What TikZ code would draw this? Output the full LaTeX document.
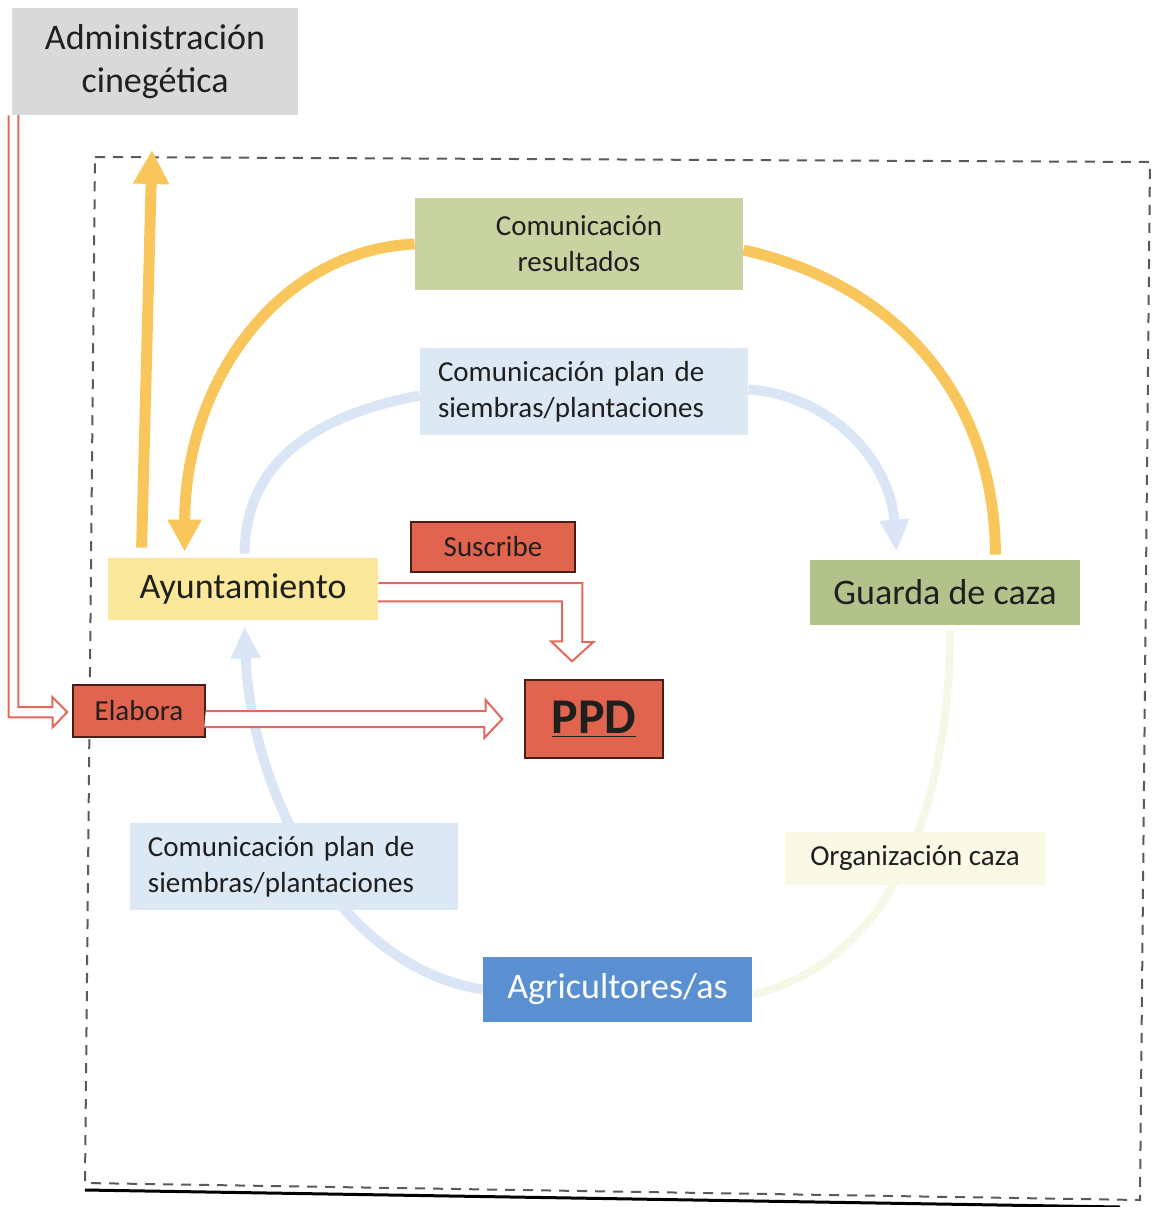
\documentclass[tikz,border=0pt]{standalone}
\usepackage{fontspec}
\setmainfont{Carlito}
\usetikzlibrary{positioning,calc,arrows.meta,backgrounds}

\definecolor{admgray}{HTML}{D9D9D9}
\definecolor{resgreen}{HTML}{C9D3A2}
\definecolor{planblue}{HTML}{DDE8F5}
\definecolor{aytoyellow}{HTML}{FCE89A}
\definecolor{ppdred}{HTML}{E0644E}
\definecolor{ppdedge}{HTML}{4A1E16}
\definecolor{guardgreen}{HTML}{B3C28A}
\definecolor{orgcream}{HTML}{F9F9E6}
\definecolor{agriblue}{HTML}{5A90D2}
\definecolor{flowyellow}{HTML}{F8C65A}
\definecolor{flowblue}{HTML}{DAE6F5}
\definecolor{flowcream}{HTML}{F7F7E8}
\definecolor{hollowred}{HTML}{E2695B}
\definecolor{framegray}{HTML}{5A5A5A}

\begin{document}
\begin{tikzpicture}[
    x=0.5pt, y=-0.5pt,
    box/.style={inner sep=0pt, align=center, text=black!88},
    bigtxt/.style={font=\fontsize{18}{21.6}\selectfont},
    smalltxt/.style={font=\fontsize{14.5}{18}\selectfont},
    planbox/.style={box, smalltxt, fill=planblue, align=left, text width=146pt,
                    inner xsep=9pt, minimum height=43.5pt},
    redbox/.style={box, smalltxt, fill=ppdred, draw=ppdedge, line width=0.7pt},
    yflow/.style={flowyellow, line width=5.5pt},
    bflow/.style={flowblue, line width=5pt},
    hollow/.style={draw=hollowred, line width=1pt, fill=white, line join=miter}
]
  \useasboundingbox (0,0) rectangle (1159,1207);

  % Actors
  \node (admin)  [box, bigtxt, fill=admgray, minimum width=143pt, minimum height=53.5pt] at (155,61.5) {Administración\\cinegética};
  \node (ayto)   [box, bigtxt, fill=aytoyellow, minimum width=135pt, minimum height=31pt] at (243,589) {Ayuntamiento};
  \node (guarda) [box, bigtxt, fill=guardgreen, minimum width=135pt, minimum height=32.5pt] at (945,592.5) {Guarda de caza};
  \node (agri)   [box, bigtxt, fill=agriblue, text=white, minimum width=134.5pt, minimum height=32.5pt] at (617.5,989.5) {Agricultores/as};

  % Flow labels
  \node (comres)  [box, smalltxt, fill=resgreen, minimum width=164pt, minimum height=46pt] at (579,244) {Comunicación\\resultados};
  \node (plantop) [planbox] at (584,391.5) {Comunicación plan de\\siembras/plantaciones};
  \node (planbot) [planbox] at (294,866.5) {Comunicación plan de\\siembras/plantaciones};
  \node (orgcaza) [box, smalltxt, fill=orgcream, minimum width=130pt, minimum height=26.5pt] at (915,858.5) {Organización caza};

  % Plan
  \node (suscribe) [redbox, minimum width=82pt, minimum height=25pt] at (493,547) {Suscribe};
  \node (elabora)  [redbox, minimum width=66pt, minimum height=26pt] at (139,711) {Elabora};
  \node (ppd)      [redbox, font=\fontsize{25}{30}\selectfont\bfseries, minimum width=69pt, minimum height=39pt] at (594,719) {\underline{PPD}};

  \coordinate (uptip) at (152,150);

  \begin{scope}[on background layer]
    % Frame
    \draw[framegray, line width=1pt, dash pattern=on 5pt off 4pt]
      (95,157) -- (1150,162) -- (1140,1200) -- (85,1183) -- cycle;
    \draw[black, line width=1.5pt] (85,1190) -- (1120,1207);

    % Flows
    \draw[yflow, -{Triangle[length=17pt,width=17pt]}] ($(ayto.north west)+(34,-10)$) -- (uptip);
    \draw[yflow, -{Triangle[length=16pt,width=16pt]}] (comres.west)
      .. controls (280,250) and (185,380) .. ($(ayto.north west)+(77,-6)$);
    \draw[yflow] ($(comres.east)+(0,6)$)
      .. controls (900,285) and (995,400) .. ($(guarda.north east)+(-85,-5)$);
    \draw[bflow] ($(plantop.west)+(0,4)$)
      .. controls (290,420) and (245,480) .. ($(ayto.north west)+(137,-4)$);
    \draw[bflow, -{Triangle[length=16pt,width=14pt]}] ($(plantop.east)+(0,-2)$)
      .. controls (830,395) and (890,460) .. ($(guarda.north west)+(87,-8)$);
    \draw[bflow, -{Triangle[length=16pt,width=14pt]}] (agri.west)
      .. controls (330,965) and (250,780) .. ($(ayto.south west)+(137,6)$);
    \draw[flowcream, line width=4pt] ($(agri.east)+(0,5)$)
      .. controls (900,960) and (950,790) .. ($(guarda.south)+(5,5)$);
  \end{scope}

  % Hollow arrows
  \draw[hollow] ($(admin.south west)+(-3,0)$) -- ++(0,602) -- ++(44,0) -- ++(0,10)
    -- ($(elabora.west)+(-5,1)$) -- ++(-15,-15) -- ++(0,10) -- ++(-34,0) -- ++(0,-592);
  \draw[hollow] ($(ayto.east)+(0,-6)$) -- ++(204,0) -- ++(0,59) -- ++(11,0)
    -- ($(ppd.north)+(-22,-18)$) -- ++(-21,-20) -- ++(11,0) -- ++(0,-40) -- ++(-184,0);
  \draw[hollow] (elabora.east) -- ++(280,0) -- ++(0,-11)
    -- ($(ppd.west)+(-22,0)$) -- ++(-18,19) -- ++(0,-11) -- ++(-280,0);
\end{tikzpicture}
\end{document}
